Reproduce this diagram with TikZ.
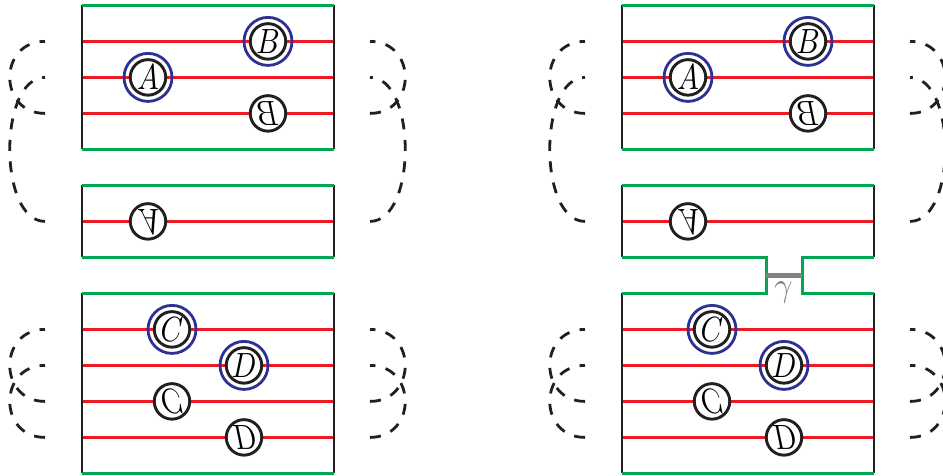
\documentclass[tikz,border=0pt]{standalone}
\usepackage{graphicx}
\definecolor{cred}{HTML}{ED1C24}
\definecolor{cgreen}{HTML}{00A651}
\definecolor{cblue}{HTML}{2E3192}
\definecolor{cblack}{HTML}{231F20}
\definecolor{cgray}{HTML}{808285}
\newcommand{\glyph}[3]{\vbox to 0pt{\vss\hbox to 0pt{\hss\scalebox{#1}[#2]{$#3$}\hss}\vss}}
\tikzset{
  side/.style={draw=cblack,line width=2.7pt},
  band/.style={draw=cgreen,line width=3pt},
  strand/.style={draw=cred,line width=2.8pt},
  disc/.style={circle,draw=cblack,fill=white,line width=2.9pt,minimum size=35.5pt,inner sep=0pt},
  halo/.style={circle,draw=cblue,line width=2.8pt,minimum size=48pt,inner sep=0pt},
  arcd/.style={draw=cblack,line width=2.8pt,dash pattern=on 11pt off 10.5pt,out=180,in=180,distance=47pt},
  arcr/.style={draw=cblack,line width=2.8pt,dash pattern=on 11pt off 10.5pt,out=0,in=0,distance=47pt}
}
\newcommand{\panelbody}{%
  % end points of the horizontal strands
  \foreach \n/\y in {a/41,b/77,c/113,d/221,e/329,f/365,g/401,h/437}{
    \coordinate (l\n) at (82,\y);
    \coordinate (r\n) at (334,\y);
    \coordinate (p\n) at (45,\y);
    \coordinate (q\n) at (370,\y);
    \draw[strand] (l\n) -- (r\n);
  }
  % black sides
  \coordinate (tl1) at (82,5);  \coordinate (bl1) at (82,149);
  \coordinate (tr1) at (334,5); \coordinate (br1) at (334,149);
  \coordinate (tl2) at (82,185);  \coordinate (bl2) at (82,257);
  \coordinate (tr2) at (334,185); \coordinate (br2) at (334,257);
  \coordinate (tl3) at (82,293);  \coordinate (bl3) at (82,473);
  \coordinate (tr3) at (334,293); \coordinate (br3) at (334,473);
  \foreach \i in {1,2,3}{
    \draw[side] (tl\i) -- (bl\i);
    \draw[side] (tr\i) -- (br\i);
  }
  \draw[band] (tl1) -- (tr1);
  \draw[band] (bl1) -- (br1);
  \draw[band] (tl2) -- (tr2);
  \draw[band] (bl3) -- (br3);
  % discs
  \node[disc] (A) at (148,77) {\glyph{2.9}{3.6}{A}};
  \node[disc] (B) at (268,41) {\glyph{2.9}{3.5}{B}};
  \node[disc] (Bm) at (268,113) {\glyph{-2.9}{3.5}{B}};
  \node[disc] (Am) at (148,221) {\glyph{2.9}{-3.6}{A}};
  \node[disc] (C) at (172,329) {\glyph{2.9}{3.5}{C}};
  \node[disc] (D) at (244,365) {\glyph{2.9}{3.5}{D}};
  \node[disc] (Cm) at (172,401) {\glyph{2.9}{-3.5}{C}};
  \node[disc] (Dm) at (244,437) {\glyph{2.9}{-3.5}{D}};
  \node[halo] (hA) at (A) {};
  \node[halo] (hB) at (B) {};
  \node[halo] (hC) at (C) {};
  \node[halo] (hD) at (D) {};
  % dashed arcs
  \draw[arcd] (pc) to (pa);
  \draw[arcd] (pd) to (pb);
  \draw[arcd] (pg) to (pe);
  \draw[arcd] (ph) to (pf);
  \draw[arcr] (qc) to (qa);
  \draw[arcr] (qd) to (qb);
  \draw[arcr] (qg) to (qe);
  \draw[arcr] (qh) to (qf);
}
\begin{document}
\begin{tikzpicture}[x=1pt,y=-1pt]
\useasboundingbox (0,-0.4) rectangle (943,475.6);
\begin{scope}[name prefix=u-]
  \panelbody
  \draw[band] (bl2) -- (br2);
  \draw[band] (tl3) -- (tr3);
\end{scope}
\begin{scope}[xshift=540pt,name prefix=v-]
  \panelbody
  \coordinate (n1) at (226,257);
  \coordinate (n2) at (226,293);
  \coordinate (n3) at (262,257);
  \coordinate (n4) at (262,293);
  \draw[band,line join=miter] (bl2) -- (n1) -- (n2) -- (tl3);
  \draw[band,line join=miter] (br2) -- (n3) -- (n4) -- (tr3);
  \coordinate (g1) at (226,275);
  \coordinate (g2) at (262,275);
  \draw[draw=cgray,line width=4.6pt] (g1) -- (g2);
  \node[text=cgray,inner sep=0pt] (gam) at (243.5,292) {\glyph{3.2}{3.4}{\gamma}};
\end{scope}
\end{tikzpicture}
\end{document}
